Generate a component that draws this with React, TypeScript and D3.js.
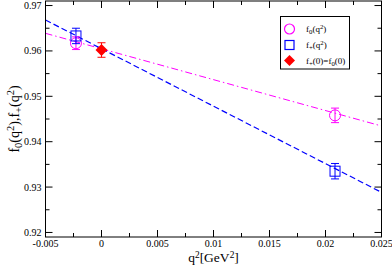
import React from "react"
import * as d3 from "d3"

// data
const q2Points = [-0.00228, 0.02085]
const f0Values = [0.9617, 0.9458]
const f0Errors = [0.0014, 0.0016]
const fpValues = [0.9633, 0.9335]
const fpErrors = [0.0017, 0.0017]
const zeroPoint = { q2: 0, f: 0.9602, err: 0.0016 }
// fit lines: [f(q2=-0.005), f(q2=0.025)]
const fpFit = [0.96681, 0.92884]
const f0Fit = [0.96388, 0.94346]
const fitRange = [-0.005, 0.025]

const xTicks = [-0.005, 0, 0.005, 0.01, 0.015, 0.02, 0.025]
const yTicks = [0.92, 0.93, 0.94, 0.95, 0.96, 0.97]

const W = 392
const H = 270
const margin = { left: 45.5, right: 10.5, top: 1, bottom: 33 }
const FONT = "Liberation Serif, DejaVu Serif, serif"

const fmtX = (v: number) => (v === 0 ? "0" : String(v))

function FLabel({ sub, arg }: { sub: string; arg: string }) {
  // renders f_sub(arg^2) pieces as tspans
  return (
    <>
      <tspan>f</tspan>
      <tspan baselineShift="-30%" fontSize="0.75em">{sub}</tspan>
      <tspan>(</tspan>
      <tspan>{arg}</tspan>
      {arg === "q" && <tspan baselineShift="45%" fontSize="0.75em">2</tspan>}
      <tspan>)</tspan>
    </>
  )
}

export default function App() {
  const x = d3.scaleLinear().domain([-0.005, 0.025]).range([margin.left, W - margin.right])
  const y = d3.scaleLinear().domain([0.919, 0.971]).range([H - margin.bottom, margin.top])

  const x0 = x.range()[0]
  const x1 = x.range()[1]
  const y0 = y.range()[0]
  const y1 = y.range()[1]

  const xMinor = d3.range(-0.005, 0.02501, 0.0025).filter((_, i) => i % 2 === 1)
  const yMinor = d3.range(0.92, 0.971, 0.005).filter((_, i) => i % 2 === 1)

  const line = d3
    .line<[number, number]>()
    .x(d => x(d[0]))
    .y(d => y(d[1]))

  const errBar = (cx: number, v: number, e: number, color: string, key: string) => (
    <g key={key} stroke={color} strokeWidth={1}>
      <line x1={x(cx)} x2={x(cx)} y1={y(v - e)} y2={y(v + e)} />
      <line x1={x(cx) - 4} x2={x(cx) + 4} y1={y(v - e)} y2={y(v - e)} />
      <line x1={x(cx) - 4} x2={x(cx) + 4} y1={y(v + e)} y2={y(v + e)} />
    </g>
  )

  const diamond = (cx: number, cy: number, r: number) =>
    `M${cx},${cy - r}L${cx + r},${cy}L${cx},${cy + r}L${cx - r},${cy}Z`

  return (
    <svg
      width={W}
      height={H}
      style={{ position: "absolute", left: 0, top: 0, fontFamily: FONT }}
    >
      <rect width={W} height={H} fill="#fff" />

      {/* fit lines */}
      <path
        d={line([[fitRange[0], f0Fit[0]], [fitRange[1], f0Fit[1]]]) || ""}
        stroke="#ff00ff"
        strokeWidth={1}
        strokeDasharray="7,3,1.5,3"
        fill="none"
      />
      <path
        d={line([[fitRange[0], fpFit[0]], [fitRange[1], fpFit[1]]]) || ""}
        stroke="#0000ff"
        strokeWidth={1.2}
        strokeDasharray="6,3"
        fill="none"
      />

      {/* f0 points */}
      {q2Points.map((q, i) => (
        <g key={"f0" + i}>
          {errBar(q, f0Values[i], f0Errors[i], "#ff00ff", "e")}
          <circle cx={x(q)} cy={y(f0Values[i])} r={5.5} fill="none" stroke="#ff00ff" strokeWidth={1} />
        </g>
      ))}
      {/* f+ points */}
      {q2Points.map((q, i) => (
        <g key={"fp" + i}>
          {errBar(q, fpValues[i], fpErrors[i], "#0000ff", "e")}
          <rect
            x={x(q) - 5}
            y={y(fpValues[i]) - 5}
            width={10}
            height={10}
            fill="none"
            stroke="#0000ff"
            strokeWidth={1}
          />
        </g>
      ))}
      {/* f+(0)=f0(0) */}
      {errBar(zeroPoint.q2, zeroPoint.f, zeroPoint.err, "#ff0000", "zero")}
      <path d={diamond(x(zeroPoint.q2), y(zeroPoint.f), 6)} fill="#ff0000" />

      {/* frame */}
      <rect x={x0} y={y1} width={x1 - x0} height={y0 - y1} fill="none" stroke="#000" strokeWidth={1} />

      {/* x ticks */}
      {xTicks.map(t => (
        <g key={"xt" + t}>
          <line x1={x(t)} x2={x(t)} y1={y0} y2={y0 - 7} stroke="#000" />
          <line x1={x(t)} x2={x(t)} y1={y1} y2={y1 + 7} stroke="#000" />
          <text x={x(t)} y={y0 + 10} fontSize={10} textAnchor="middle">
            {fmtX(t)}
          </text>
        </g>
      ))}
      {xMinor.map(t => (
        <g key={"xm" + t}>
          <line x1={x(t)} x2={x(t)} y1={y0} y2={y0 - 4} stroke="#000" />
          <line x1={x(t)} x2={x(t)} y1={y1} y2={y1 + 4} stroke="#000" />
        </g>
      ))}

      {/* y ticks */}
      {yTicks.map(t => (
        <g key={"yt" + t}>
          <line x1={x0} x2={x0 + 7} y1={y(t)} y2={y(t)} stroke="#000" />
          <line x1={x1} x2={x1 - 7} y1={y(t)} y2={y(t)} stroke="#000" />
          <text x={x0 - 4} y={y(t) + 3.5} fontSize={10} textAnchor="end">
            {t.toFixed(2)}
          </text>
        </g>
      ))}
      {yMinor.map(t => (
        <g key={"ym" + t}>
          <line x1={x0} x2={x0 + 4} y1={y(t)} y2={y(t)} stroke="#000" />
          <line x1={x1} x2={x1 - 4} y1={y(t)} y2={y(t)} stroke="#000" />
        </g>
      ))}

      {/* axis labels */}
      <text x={(x0 + x1) / 2} y={262} fontSize={13.5} textAnchor="middle">
        <tspan>q</tspan>
        <tspan baselineShift="45%" fontSize="0.7em">2</tspan>
        <tspan>[GeV</tspan>
        <tspan baselineShift="45%" fontSize="0.7em">2</tspan>
        <tspan>]</tspan>
      </text>
      <text transform={`translate(19,${(y0 + y1) / 2}) rotate(-90)`} fontSize={14} textAnchor="middle">
        <FLabel sub="0" arg="q" />
        <tspan>,</tspan>
        <FLabel sub="+" arg="q" />
      </text>

      {/* legend */}
      <g>
        <rect x={280.5} y={16.5} width={69} height={52.5} fill="#fff" stroke="#000" strokeWidth={1} />
        <circle cx={289.5} cy={29} r={5} fill="none" stroke="#ff00ff" strokeWidth={1.2} />
        <rect x={285} y={40.5} width={9} height={9} fill="none" stroke="#0000ff" strokeWidth={1.2} />
        <path d={diamond(289.5, 60.5, 5.5)} fill="#ff0000" />
        <text x={306} y={32} fontSize={9}>
          <FLabel sub="0" arg="q" />
        </text>
        <text x={306} y={48} fontSize={9}>
          <FLabel sub="+" arg="q" />
        </text>
        <text x={306} y={64} fontSize={9}>
          <tspan>f</tspan>
          <tspan baselineShift="-30%" fontSize="0.75em">+</tspan>
          <tspan>(0)=f</tspan>
          <tspan baselineShift="-30%" fontSize="0.75em">0</tspan>
          <tspan>(0)</tspan>
        </text>
      </g>
    </svg>
  )
}
